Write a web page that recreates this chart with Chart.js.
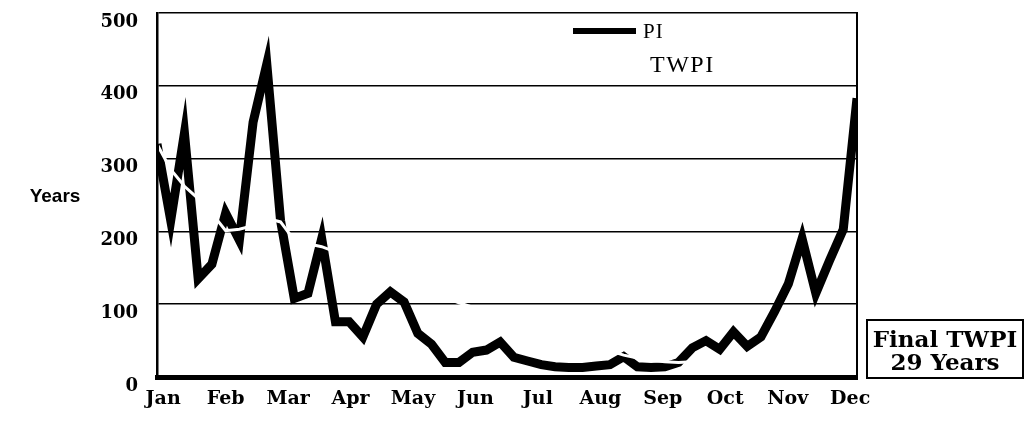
<!DOCTYPE html>
<html>
<head>
    <meta charset="UTF-8">
    <title>PI and TWPI</title>
    <script src="https://cdn.jsdelivr.net/npm/chart.js"></script>
    <style>
        body {
            margin: 0;
            background: #fff;
        }
        #chart {
            display: block;
        }
    </style>
</head>
<body>
    <canvas id="chart" width="1026" height="431"></canvas>

    <script>
        const months = ['Jan', 'Feb', 'Mar', 'Apr', 'May', 'Jun', 'Jul', 'Aug', 'Sep', 'Oct', 'Nov', 'Dec'];
        const yTicks = [0, 100, 200, 300, 400, 500];

        // weekly values in years
        const pi = [
            320, 215, 335, 135, 155, 225, 188, 350, 430, 215,
            108, 115, 190, 76, 76, 55, 100, 117, 103, 60,
            45, 20, 20, 34, 37, 48, 27, 22, 17, 14,
            13, 13, 15, 17, 28, 14, 13, 14, 20, 40,
            50, 38, 62, 42, 55, 90, 128, 190, 115, 160,
            203, 383
        ];
        const twpi = [
            320, 285, 262, 245, 225, 201, 203, 208, 218, 213,
            188, 183, 179, 172, 164, 156, 148, 140, 132, 124,
            116, 109, 102, 96, 90, 84, 78, 72, 66, 60,
            54, 48, 42, 36, 30, 26, 23, 21, 20, 21,
            22, 22, 23, 23, 24, 25, 25, 26, 27, 27,
            28, 29
        ];
        const finalTwpi = 29;

        const tickFont = { family: '"DejaVu Serif", serif', size: 19, weight: 'bold' };

        // legend, axis title and the final value box
        const decor = {
            id: 'decor',
            afterDraw(chart) {
                const { ctx } = chart;
                const sets = chart.data.datasets;
                ctx.save();
                ctx.fillStyle = '#000';
                ctx.strokeStyle = '#000';

                ctx.font = 'bold 19px "Liberation Sans", sans-serif';
                ctx.textAlign = 'center';
                ctx.textBaseline = 'middle';
                ctx.fillText('Years', 55, 197);

                ctx.lineWidth = 6;
                ctx.beginPath();
                ctx.moveTo(573, 31);
                ctx.lineTo(636, 31);
                ctx.stroke();

                ctx.textAlign = 'left';
                ctx.textBaseline = 'alphabetic';
                ctx.font = '21px "Liberation Serif", serif';
                ctx.letterSpacing = '1px';
                ctx.fillText(sets[0].label, 643, 38);
                ctx.font = '24px "Liberation Serif", serif';
                ctx.letterSpacing = '1.5px';
                ctx.fillText(sets[1].label, 650, 72);
                ctx.letterSpacing = '0px';

                ctx.lineWidth = 2;
                ctx.strokeRect(867, 320, 156, 58);
                ctx.font = 'bold 23px "DejaVu Serif", serif';
                ctx.textAlign = 'center';
                ctx.fillText('Final TWPI', 945, 347);
                ctx.fillText(finalTwpi + ' Years', 945, 370);
                ctx.restore();
            }
        };

        const noPad = s => {
            s.paddingTop = 0;
            s.paddingBottom = 0;
        };

        const ctx = document.getElementById('chart').getContext('2d');
        const chart = new Chart(ctx, {
            type: 'line',
            data: {
                datasets: [{
                    label: 'PI',
                    data: pi.map((v, i) => ({ x: i, y: v })),
                    borderColor: '#000',
                    borderWidth: 9,
                    borderJoinStyle: 'miter',
                    pointRadius: 0,
                    order: 1
                }, {
                    label: 'TWPI',
                    data: twpi.map((v, i) => ({ x: i, y: v })),
                    borderColor: '#fff',
                    borderWidth: 3,
                    pointRadius: 0,
                    clip: { left: -2, right: -2, top: 0, bottom: -3 },
                    order: 0
                }]
            },
            options: {
                responsive: false,
                animation: false,
                devicePixelRatio: 1,
                layout: { padding: { left: 0, right: 169, top: 13, bottom: 0 } },
                plugins: {
                    legend: { display: false },
                    tooltip: { enabled: false }
                },
                scales: {
                    x: {
                        type: 'linear',
                        min: 0,
                        max: pi.length - 1,
                        grid: { display: false, drawTicks: false },
                        border: { color: '#000', width: 5 },
                        afterBuildTicks: axis => {
                            axis.ticks = months.map((m, i) => ({ value: 0.45 + i * 4.55 }));
                        },
                        afterFit: s => {
                            s.height = 54;
                            s.paddingLeft = 0;
                            s.paddingRight = 0;
                        },
                        ticks: {
                            autoSkip: false,
                            maxRotation: 0,
                            minRotation: 0,
                            padding: 11,
                            color: '#000',
                            font: tickFont,
                            callback: (v, i) => months[i]
                        }
                    },
                    y: {
                        min: 0,
                        max: 500,
                        afterBuildTicks: axis => {
                            axis.ticks = yTicks.map(v => ({ value: v }));
                        },
                        afterFit: s => {
                            s.width = 157;
                            noPad(s);
                        },
                        grid: { color: '#000', lineWidth: 1.5, drawTicks: false },
                        border: { color: '#000', width: 2.5 },
                        ticks: {
                            padding: 19,
                            labelOffset: 9,
                            color: '#000',
                            font: { family: '"DejaVu Serif", serif', size: 18, weight: 'bold' }
                        }
                    },
                    yRight: {
                        position: 'right',
                        min: 0,
                        max: 500,
                        afterFit: s => {
                            s.width = 0;
                            noPad(s);
                        },
                        grid: { display: false, drawTicks: false },
                        border: { color: '#000', width: 2 },
                        ticks: { display: false }
                    }
                }
            },
            plugins: [decor]
        });
    </script>
</body>
</html>
